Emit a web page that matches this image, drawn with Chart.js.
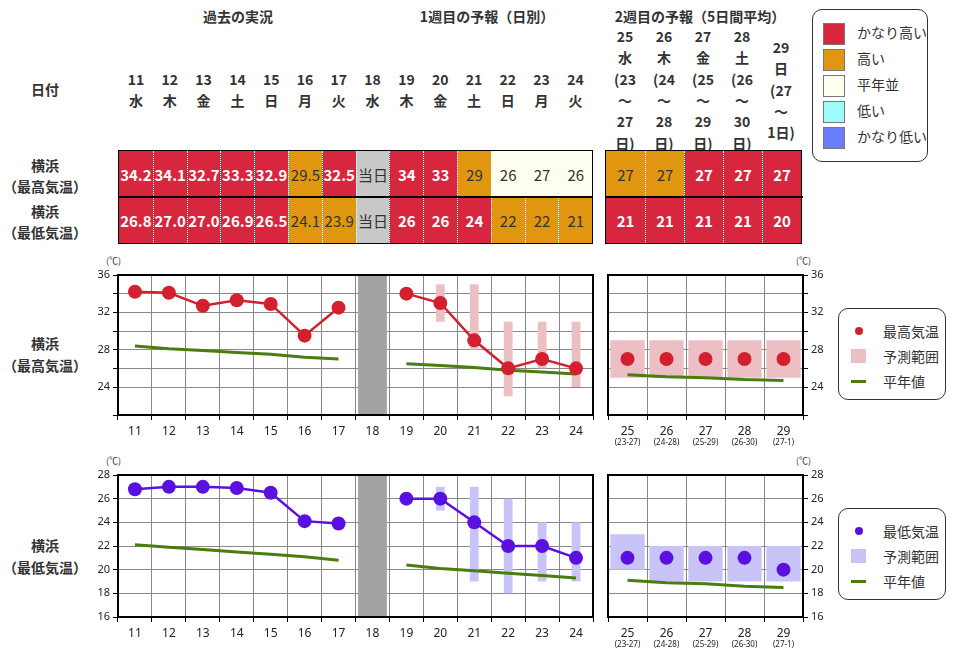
<!DOCTYPE html>
<html><head><meta charset="utf-8">
<script src="https://cdn.jsdelivr.net/npm/chart.js@4"></script>
<style>
body{margin:0;width:953px;height:658px;position:relative;font-family:"Noto Sans CJK JP","Noto Sans",sans-serif;color:#333;background:#fff;overflow:hidden}
.t{position:absolute;white-space:nowrap;transform:translate(-50%,-50%);font-weight:bold;font-size:14px;line-height:1}
.n{font-weight:normal}
.cell{position:absolute;display:flex;align-items:center;justify-content:center;font-size:15px;box-sizing:border-box;border-left:1px dotted #fff}
.r{background:#d7263d;color:#fff;font-weight:bold}
.o{background:#e0970f;color:#333}
.c{background:#fffff0;color:#333}
.g{background:#c8c8c8;color:#333}
.blk{position:absolute;border:1.5px solid #000;box-sizing:border-box}
.leg{position:absolute;border:1px solid #333;border-radius:10px;background:#fff}
canvas{position:absolute}
.unit{position:absolute;font-size:9px;color:#333}
</style></head><body>
<div id="root"></div>
<canvas id="mx" width="530" height="185" style="left:70px;top:262px"></canvas>
<canvas id="mx2" width="250" height="185" style="left:600px;top:262px"></canvas>
<canvas id="mn" width="530" height="187" style="left:70px;top:462px"></canvas>
<canvas id="mn2" width="250" height="187" style="left:600px;top:462px"></canvas>
<script>
// ---- data ----
const days = ['11','12','13','14','15','16','17','18','19','20','21','22','23','24'];
const weekdays = ['水','木','金','土','日','月','火','水','木','金','土','日','月','火'];
const week2Days = ['25','26','27','28','29'];
const week2Sub = ['(23-27)','(24-28)','(25-29)','(26-30)','(27-1)'];

const maxTable = ['34.2','34.1','32.7','33.3','32.9','29.5','32.5','当日','34','33','29','26','27','26'];
const maxClass = ['r','r','r','r','r','o','r','g','r','r','o','c','c','c'];
const maxTable2 = ['27','27','27','27','27'];
const maxClass2 = ['o','o','r','r','r'];
const minTable = ['26.8','27.0','27.0','26.9','26.5','24.1','23.9','当日','26','26','24','22','22','21'];
const minClass = ['r','r','r','r','r','o','o','g','r','r','r','o','o','o'];
const minTable2 = ['21','21','21','21','20'];
const minClass2 = ['r','r','r','r','r'];

const maxObs = [34.2,34.1,32.7,33.3,32.9,29.5,32.5,null,34,33,29,26,27,26];
const maxLo  = [null,null,null,null,null,null,null,null,null,31,28,23,26,24];
const maxHi  = [null,null,null,null,null,null,null,null,null,35,35,31,31,31];
const maxNormal = [28.4,28.1,27.9,27.7,27.5,27.2,27.0,null,26.5,26.3,26.1,25.8,25.6,25.4];
const maxW2 = [27,27,27,27,27];
const maxW2Lo = [25,25,25,25,25];
const maxW2Hi = [29,29,29,29,29];
const maxW2Normal = [25.3,25.1,25.0,24.8,24.7];

const minObs = [26.8,27.0,27.0,26.9,26.5,24.1,23.9,null,26,26,24,22,22,21];
const minLo  = [null,null,null,null,null,null,null,null,null,25,19,18,19,19];
const minHi  = [null,null,null,null,null,null,null,null,null,27,27,26,24,24];
const minNormal = [22.1,21.9,21.7,21.5,21.3,21.1,20.8,null,20.4,20.1,19.9,19.7,19.5,19.3];
const minW2 = [21,21,21,21,20];
const minW2Lo = [20,19,19,19,19];
const minW2Hi = [23,22,22,22,22];
const minW2Normal = [19.1,18.9,18.8,18.6,18.5];

// ---- html parts ----
const root = document.getElementById('root');
function txt(x,y,s,cls){const d=document.createElement('div');d.className='t '+(cls||'');d.style.left=x+'px';d.style.top=y+'px';d.innerHTML=s;root.appendChild(d);return d;}
txt(238,16,'過去の実況');txt(487,16,'1週目の予報（日別）');txt(700,16,'2週目の予報（5日間平均）');
txt(45,89,'日付');
days.forEach((d,i)=>{const x=136+i*33.8;txt(x,79,d);txt(x,100,weekdays[i]);});
const w2lines=[['25','水','(23','～','27','日)'],['26','木','(24','～','28','日)'],['27','金','(25','～','29','日)'],['28','土','(26','～','30','日)'],['29','日','(27','～','1日)']];
w2lines.forEach((ls,i)=>{const x=625+i*39;const y0=i==4?47:36;ls.forEach((s,j)=>txt(x,y0+j*21.3,s));});
txt(45,165,'横浜');txt(45,186,'（最高気温）');txt(45,211,'横浜');txt(45,232,'（最低気温）');
txt(45,343,'横浜');txt(45,365,'（最高気温）');txt(45,545,'横浜');txt(45,567,'（最低気温）');

function row(vals,cls,x0,w,y,h){vals.forEach((v,i)=>{const d=document.createElement('div');d.className='cell '+cls[i];
 d.style.left=(x0+i*w)+'px';d.style.top=y+'px';d.style.width=w+'px';d.style.height=h+'px';if(i==0)d.style.borderLeft='none';d.textContent=v;root.appendChild(d);});}
row(maxTable,maxClass,119,33.8,151,46);row(minTable,minClass,119,33.8,197,46);
row(maxTable2,maxClass2,606,39,151,46);row(minTable2,minClass2,606,39,197,46);
function blk(x,y,w,h){const d=document.createElement('div');d.className='blk';Object.assign(d.style,{left:x+'px',top:y+'px',width:w+'px',height:h+'px'});root.appendChild(d);}
blk(118,150,475,94);blk(605,150,197,94);
const hl=document.createElement('div');hl.style.cssText='position:absolute;left:118px;top:196px;width:685px;height:1.5px;background:#000';root.appendChild(hl);
const hl2=document.createElement('div');hl2.style.cssText='position:absolute;left:593px;top:196px;width:12px;height:2px;background:#fff';root.appendChild(hl2);

// top legend
const tl=document.createElement('div');tl.className='leg';tl.style.cssText+='left:812px;top:9px;width:114px;height:151px';root.appendChild(tl);
[['#d7263d','かなり高い'],['#e0970f','高い'],['#fffff0','平年並'],['#9ffcfc','低い'],['#6a7cff','かなり低い']].forEach(([c,s],i)=>{
 const sw=document.createElement('div');sw.style.cssText=`position:absolute;left:10px;top:${13+i*26}px;width:20px;height:20px;border:1px solid #777;background:${c}`;tl.appendChild(sw);
 const l=document.createElement('div');l.style.cssText=`position:absolute;left:44px;top:${12+i*26}px;font-size:14px`;l.textContent=s;tl.appendChild(l);});
function chartLegend(y,col,fill,name){const b=document.createElement('div');b.className='leg';b.style.cssText+=`left:838px;top:${y}px;width:106px;height:90px`;root.appendChild(b);
 const items=[`<div style="width:8px;height:8px;border-radius:50%;background:${col};margin-left:10px"></div>`,`<div style="width:15px;height:14px;background:${fill};margin-left:6px"></div>`,`<div style="width:15px;height:3px;background:#4a7c10;margin-left:6px"></div>`];
 [name,'予測範囲','平年値'].forEach((s,i)=>{const r=document.createElement('div');r.style.cssText=`position:absolute;left:6px;top:${12+i*25}px;height:20px;display:flex;align-items:center;font-size:14px`;
 r.innerHTML=`<div style="width:28px">${items[i]}</div><span style="margin-left:10px">${s}</span>`;b.appendChild(r);});}
chartLegend(308,'#d2202f','#ebbfc4','最高気温');chartLegend(508,'#5a10e0','#c8c4f8','最低気温');
[[106,254],[796,254],[106,454],[796,454]].forEach(([x,y])=>{const u=document.createElement('div');u.className='unit';u.style.left=x+'px';u.style.top=y+'px';u.textContent='(℃)';root.appendChild(u);});

// ---- charts ----
Chart.defaults.font.family='"Noto Sans","DejaVu Sans",sans-serif';
Chart.defaults.color='#222';
const frame={id:'frame',afterDraw(c){const a=c.chartArea,x=c.ctx;x.save();x.strokeStyle='#000';x.lineWidth=2;x.strokeRect(a.left,a.top,a.right-a.left,a.bottom-a.top);x.restore();}};
const subLabels={id:'sub',afterDraw(c){if(!c.options.plugins.sub.show)return;const x=c.ctx,s=c.scales.x;x.save();x.font='8px "Noto Sans"';x.fillStyle='#222';x.textAlign='center';
 week2Sub.forEach((t,i)=>x.fillText(t,s.getPixelForValue(i),c.chartArea.bottom+30));x.restore();}};

function make(id,labels,sets,ymin,ymax,right,labEvery){
 const grid={color:'#888',lineWidth:1,tickLength:5,tickColor:'#000'};
 return new Chart(document.getElementById(id),{type:'bar',data:{labels,datasets:sets},plugins:[frame,subLabels],
  options:{responsive:false,animation:false,
   layout:{padding:right?{left:8,top:13}:{right:7,top:13}},
   plugins:{legend:{display:false},tooltip:{enabled:false},sub:{show:right}},
   scales:{
    x:{offset:true,grid:{...grid,offset:true},border:{display:false},ticks:{font:{size:12},padding:4,maxRotation:0,autoSkip:false},afterFit(s){s.height=32;}},
    y:{position:right?'right':'left',min:ymin,max:ymax,grid,border:{display:false},
       ticks:{stepSize:2,font:{size:11},padding:3,callback:v=>v%labEvery==0?v:''},afterFit(s){s.width=right?47:48;}}
   }}});
}
function sets(obs,lo,hi,normal,col,fill,ymin,ymax,w2){
 const out=[
  {type:'line',data:obs,borderColor:col,backgroundColor:col,borderWidth:2.5,pointRadius:7,pointBorderWidth:0,spanGaps:false,order:0},
  {type:'line',data:normal,borderColor:'#4a7c10',borderWidth:3,pointRadius:0,spanGaps:false,order:1},
  {type:'bar',data:lo.map((l,i)=>l==null?null:[l,hi[i]]),backgroundColor:fill,grouped:false,barPercentage:w2?0.88:0.26,categoryPercentage:1,order:3}];
 if(!w2)out.push({type:'bar',data:obs.map((v,i)=>i==7?[ymin,ymax]:null),backgroundColor:'#a3a3a3',grouped:false,barPercentage:0.85,categoryPercentage:1,order:4});
 else{out[0].showLine=false;}
 return out;
}
make('mx',days,sets(maxObs,maxLo,maxHi,maxNormal,'#d2202f','#ebbfc4',21,36,false),21,36,false,4);
make('mx2',week2Days,sets(maxW2,maxW2Lo,maxW2Hi,maxW2Normal,'#d2202f','#ebbfc4',21,36,true),21,36,true,4);
make('mn',days,sets(minObs,minLo,minHi,minNormal,'#5a10e0','#c8c4f8',16,28,false),16,28,false,2);
make('mn2',week2Days,sets(minW2,minW2Lo,minW2Hi,minW2Normal,'#5a10e0','#c8c4f8',16,28,true),16,28,true,2);
</script></body></html>
